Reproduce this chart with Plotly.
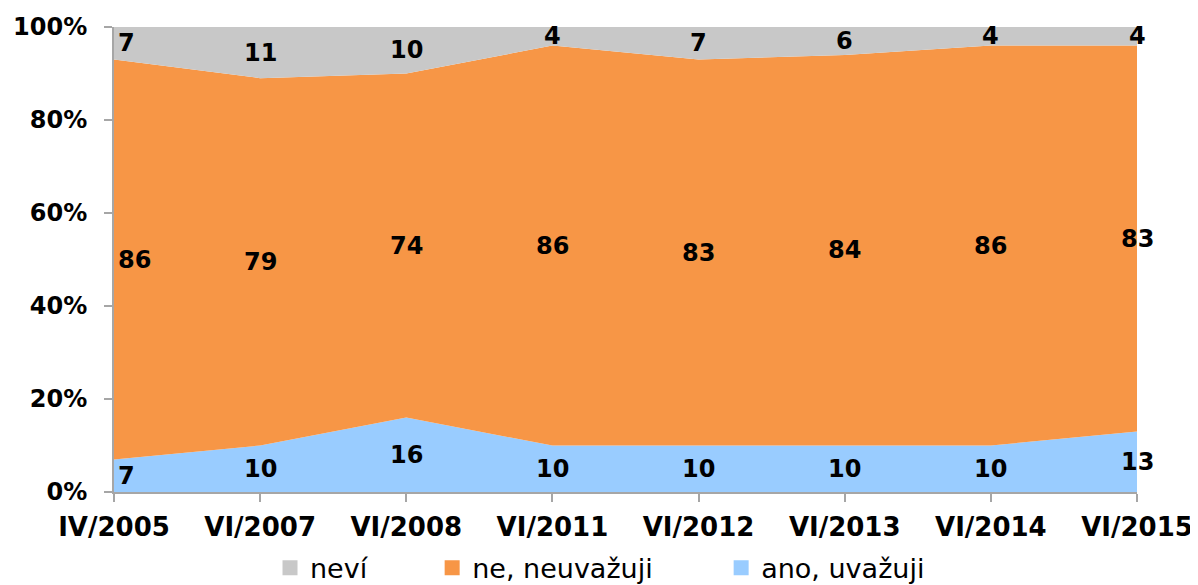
import plotly.graph_objects as go

categories = ["IV/2005", "VI/2007", "VI/2008", "VI/2011", "VI/2012", "VI/2013", "VI/2014", "VI/2015"]
ano = [7, 10, 16, 10, 10, 10, 10, 13]
ne = [86, 79, 74, 86, 83, 84, 86, 83]
nevi = [7, 11, 10, 4, 7, 6, 4, 4]

colors = {"ano": "#99CCFF", "ne": "#F79646", "nevi": "#C8C8C8"}
xs = list(range(len(categories)))

fig = go.Figure()
series = [("ano, uvažuji", ano, colors["ano"]),
          ("ne, neuvažuji", ne, colors["ne"]),
          ("neví", nevi, colors["nevi"])]
for name, vals, col in series:
    fig.add_trace(go.Scatter(x=xs, y=vals, name=name, mode="lines", stackgroup="one",
                             line=dict(width=0, color=col), fillcolor=col,
                             hoverinfo="skip", showlegend=False))

# legend entries as square markers, each in its own legend box
leg_pos = {"neví": ("legend", 0.1525), "ne, neuvažuji": ("legend2", 0.311), "ano, uvažuji": ("legend3", 0.5935)}
for name, vals, col in series:
    lg, _ = leg_pos[name]
    fig.add_trace(go.Scatter(x=[None], y=[None], name=name, mode="markers",
                             marker=dict(symbol="square", size=15, color=col),
                             legend=lg, showlegend=True))

font_b = "DejaVu Sans"
annotations = []
for i in xs:
    base = 0
    for name, vals, col in series:
        mid = base + vals[i] / 2
        base += vals[i]
        annotations.append(dict(x=i, y=mid, text="<b>%d</b>" % vals[i], showarrow=False,
                                xanchor="left" if i == 0 else "center",
                                xshift=2 if i == 0 else 0,
                                font=dict(family=font_b, size=24, color="black")))

leg_common = dict(orientation="h", yanchor="middle", y=-0.164, xanchor="left",
                  font=dict(family="DejaVu Sans", size=27, color="black"),
                  bgcolor="rgba(0,0,0,0)")
layout_legends = {}
for name, (lg, xp) in leg_pos.items():
    d = dict(leg_common)
    d["x"] = xp
    layout_legends[lg] = d

fig.update_layout(
    width=1190, height=577,
    margin=dict(l=106, r=61, t=19, b=93, autoexpand=False),
    plot_bgcolor="white", paper_bgcolor="white",
    annotations=annotations,
    showlegend=True,
    **layout_legends,
    xaxis=dict(range=[0, 7], tickvals=xs, ticktext=["<b>%s</b>" % c for c in categories],
               automargin=False, ticklabelstandoff=3,
               showline=True, linecolor="#A6A6A6", linewidth=2, ticks="outside",
               tickcolor="#A6A6A6", ticklen=8, tickwidth=2, showgrid=False, zeroline=False,
               tickfont=dict(family=font_b, size=26, color="black")),
    yaxis=dict(range=[0, 100], tickvals=[0, 20, 40, 60, 80, 100],
               ticktext=["<b>%d%%</b>" % v for v in [0, 20, 40, 60, 80, 100]],
               automargin=False, ticklabelstandoff=12,
               showline=True, linecolor="#A6A6A6", linewidth=2, ticks="outside",
               tickcolor="#A6A6A6", ticklen=8, tickwidth=2, showgrid=False, zeroline=False,
               tickfont=dict(family=font_b, size=24, color="black")),
)
fig.write_html("out.html")
